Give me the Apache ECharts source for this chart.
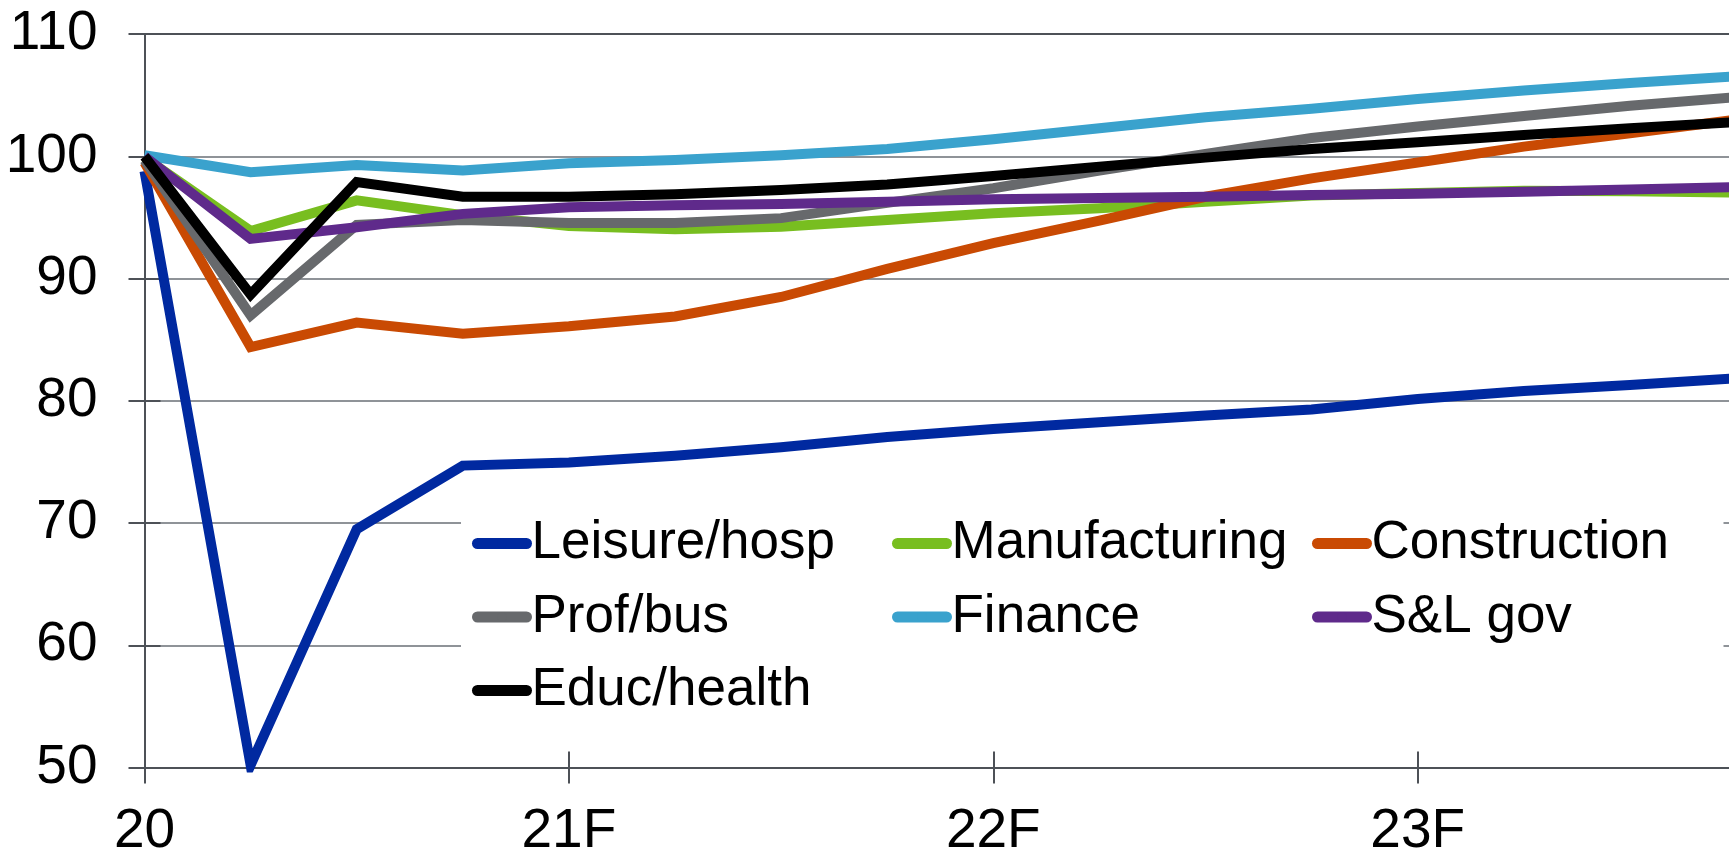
<!DOCTYPE html>
<html><head><meta charset="utf-8">
<script src="https://cdn.jsdelivr.net/npm/echarts@6/dist/echarts.min.js"></script>
<style>html,body{margin:0;padding:0;background:#fff;}#c{width:1729px;height:851px;}</style>
</head><body><div id="c"></div>
<script>
// ---- data ----
const quarters = ['20Q1','20Q2','20Q3','20Q4','21Q1','21Q2','21Q3','21Q4',
                  '22Q1','22Q2','22Q3','22Q4','23Q1','23Q2','23Q3','23Q4'];
const yearTickLabels = {'20Q1':'20','21Q1':'21F','22Q1':'22F','23Q1':'23F'};
const seriesNames = ['Leisure/hosp','Manufacturing','Construction','Prof/bus','Finance','S&L gov','Educ/health'];
const leisureHosp   = [98.8, 50.2, 69.5, 74.7, 74.95, 75.5, 76.2, 77.05, 77.7, 78.25, 78.8, 79.3, 80.15, 80.8, 81.3, 81.85];
const manufacturing = [99.9, 93.9, 96.4, 95.2, 94.3, 94.05, 94.25, 94.8, 95.35, 95.75, 96.3, 96.8, 97.0, 97.2, 97.15, 97.05];
const construction  = [99.5, 84.4, 86.4, 85.5, 86.1, 86.9, 88.5, 90.8, 92.9, 94.75, 96.7, 98.2, 99.5, 100.8, 101.9, 103.0];
const profBus       = [99.7, 87.0, 94.4, 94.8, 94.55, 94.55, 94.95, 96.2, 97.4, 98.85, 100.2, 101.5, 102.45, 103.3, 104.15, 104.85];
const finance       = [100.1, 98.7, 99.3, 98.85, 99.45, 99.7, 100.1, 100.6, 101.4, 102.3, 103.2, 103.9, 104.7, 105.4, 106.0, 106.55];
const slGov         = [100.0, 93.25, 94.2, 95.3, 95.85, 96.0, 96.1, 96.3, 96.5, 96.6, 96.7, 96.85, 96.95, 97.1, 97.3, 97.5];
const educHealth    = [100.0, 88.7, 97.9, 96.7, 96.7, 96.9, 97.25, 97.7, 98.4, 99.15, 99.9, 100.6, 101.15, 101.75, 102.3, 102.8];
const seriesValues = [leisureHosp, manufacturing, construction, profBus, finance, slGov, educHealth];
const seriesColors = ['#0029A0', '#78BE20', '#C94A03', '#67696C', '#3AA2CD', '#5F2A8B', '#000000'];

// ---- chart ----
const FONT = '"Liberation Sans", Arial, sans-serif';
const AXIS = '#4D5157';
const GRID = '#8F9398';
const chart = echarts.init(document.getElementById('c'), null, {renderer: 'canvas', devicePixelRatio: 1});

const option = {
  animation: false,
  backgroundColor: '#ffffff',
  grid: {left: 144.5, top: 34.2, bottom: 83.5, right: -7, containLabel: false, outerBoundsMode: 'none'},
  legend: {
    data: seriesNames,
    orient: 'horizontal',
    left: 461, top: 507,
    width: 1400,
    padding: [10, 12, 10, 11],
    backgroundColor: '#ffffff',
    itemWidth: 49, itemHeight: 12, itemGap: 20.5,
    lineStyle: {width: 11, cap: 'round'},
    textStyle: {fontSize: 53, fontFamily: FONT, color: '#000', width: 340, lineHeight: 46},
    z: 10
  },
  xAxis: [
    {
      type: 'category', data: quarters, boundaryGap: false, position: 'bottom',
      axisLine: {show: true, lineStyle: {color: AXIS, width: 2}},
      axisTick: {show: true, interval: 3, length: 16, lineStyle: {color: AXIS, width: 2}},
      axisLabel: {interval: 3, margin: 37, fontSize: 55, fontFamily: FONT, color: '#000',
                  formatter: v => yearTickLabels[v] || ''},
      splitLine: {show: false}
    },
    {
      type: 'category', data: quarters, boundaryGap: false, position: 'bottom',
      axisLine: {show: false},
      axisTick: {show: true, inside: true, interval: 3, length: 16, lineStyle: {color: AXIS, width: 2}},
      axisLabel: {show: false}, splitLine: {show: false}
    },
    {
      type: 'category', data: quarters, boundaryGap: false, position: 'top',
      axisLine: {show: true, lineStyle: {color: AXIS, width: 2}},
      axisTick: {show: false}, axisLabel: {show: false}, splitLine: {show: false}
    }
  ],
  yAxis: [
    {
      type: 'value', min: 50, max: 110, interval: 10, position: 'left',
      axisLine: {show: true, lineStyle: {color: AXIS, width: 2}},
      axisTick: {show: true, length: 16, lineStyle: {color: AXIS, width: 2}},
      axisLabel: {margin: 47, fontSize: 55, fontFamily: FONT, color: '#000'},
      splitLine: {show: true, lineStyle: {color: GRID, width: 2}}
    },
    {
      type: 'value', min: 50, max: 110, interval: 10, position: 'left',
      axisLine: {show: false},
      axisTick: {show: true, inside: true, length: 16, lineStyle: {color: AXIS, width: 2}},
      axisLabel: {show: false}, splitLine: {show: false}
    }
  ],
  series: seriesNames.map((name, k) => ({
    name: name,
    type: 'line',
    data: seriesValues[k],
    xAxisIndex: 0, yAxisIndex: 0,
    symbol: 'none',
    color: seriesColors[k],
    lineStyle: {width: 10, color: seriesColors[k], join: 'miter', cap: 'butt'},
    z: 2 + k * 0.01
  }))
};
chart.setOption(option);
</script>
</body></html>
